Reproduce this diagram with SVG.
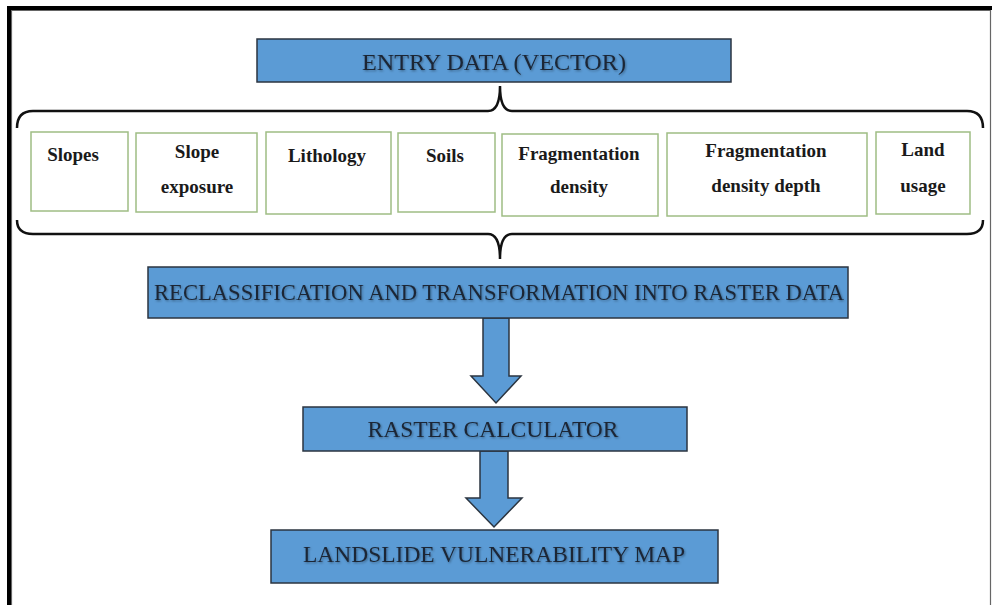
<svg xmlns="http://www.w3.org/2000/svg" width="992" height="605" viewBox="0 0 992 605">
<defs>
<style>
.blue{fill:#5b9bd5;stroke:#2b3540;stroke-width:1.5}
.green{fill:#fff;stroke:#9fbd84;stroke-width:1.5}
.bt{font-family:"Liberation Serif","Times New Roman",serif;font-size:23px;fill:#1b2636;text-anchor:middle;filter:url(#sh)}
.gt{font-family:"Liberation Serif","Times New Roman",serif;font-size:19px;font-weight:bold;fill:#1a1a1a;text-anchor:middle}
.brace{fill:none;stroke:#111;stroke-width:2.5}
.arrow{fill:#5b9bd5;stroke:#2b3540;stroke-width:1.5;stroke-linejoin:miter}
</style>
<filter id="sh" x="-5%" y="-30%" width="110%" height="160%">
<feDropShadow dx="1" dy="1.2" stdDeviation="0.8" flood-color="#000" flood-opacity="0.35"/>
</filter>
</defs>
<rect width="992" height="605" fill="#fff"/>
<g id="frame">
<path d="M11.5,605 V10.5 H990.5 V605" fill="none" stroke="#666" stroke-width="1.2"/>
<rect x="7" y="6" width="985" height="4" fill="#000"/>
<rect x="7" y="6" width="4" height="599" fill="#000"/>
</g>
<g id="entry">
<rect class="blue" x="257" y="39" width="474" height="43"/>
<text class="bt" x="494" y="70" textLength="264" lengthAdjust="spacingAndGlyphs">ENTRY DATA (VECTOR)</text>
</g>
<g id="connectors">
<path class="brace" d="M17,128 Q17,111 33,111 L488,111 Q500,111 500,86 Q500,111 512,111 L967,111 Q983,111 983,128"/>
<path class="brace" d="M17,220 Q17,234 33,234 L488,234 Q500,234 500,259 Q500,234 512,234 L967,234 Q983,234 983,220"/>
<polygon class="arrow" points="483,318 509,318 509,376 521,376 496,403 471,376 483,376"/>
<polygon class="arrow" points="480,451 508,451 508,498 522,498 494,527 466,498 480,498"/>
</g>
<g id="slopes">
<rect class="green" x="31" y="132" width="97" height="79"/>
<text class="gt" x="73" y="161">Slopes</text>
</g>
<g id="slope-exposure">
<rect class="green" x="136" y="133" width="121" height="79"/>
<text class="gt" x="197" y="158">Slope</text>
<text class="gt" x="197" y="193">exposure</text>
</g>
<g id="lithology">
<rect class="green" x="266" y="132" width="125" height="82"/>
<text class="gt" x="327" y="162">Lithology</text>
</g>
<g id="soils">
<rect class="green" x="398" y="133" width="97" height="79"/>
<text class="gt" x="445" y="162">Soils</text>
</g>
<g id="fragmentation-density">
<rect class="green" x="502" y="134" width="156" height="82"/>
<text class="gt" x="579" y="160">Fragmentation</text>
<text class="gt" x="579" y="193">density</text>
</g>
<g id="fragmentation-density-depth">
<rect class="green" x="667" y="133" width="200" height="83"/>
<text class="gt" x="766" y="157">Fragmentation</text>
<text class="gt" x="766" y="192">density depth</text>
</g>
<g id="land-usage">
<rect class="green" x="876" y="132" width="94" height="82"/>
<text class="gt" x="923" y="156">Land</text>
<text class="gt" x="923" y="192">usage</text>
</g>
<g id="reclassification">
<rect class="blue" x="148" y="267" width="700" height="51"/>
<text class="bt" x="499" y="300" textLength="690" lengthAdjust="spacingAndGlyphs">RECLASSIFICATION AND TRANSFORMATION INTO RASTER DATA</text>
</g>
<g id="raster-calculator">
<rect class="blue" x="303" y="407" width="384" height="44"/>
<text class="bt" x="493" y="437" textLength="251" lengthAdjust="spacingAndGlyphs">RASTER CALCULATOR</text>
</g>
<g id="landslide-map">
<rect class="blue" x="271" y="530" width="447" height="53"/>
<text class="bt" x="494" y="562" textLength="382" lengthAdjust="spacingAndGlyphs">LANDSLIDE VULNERABILITY MAP</text>
</g>
</svg>
